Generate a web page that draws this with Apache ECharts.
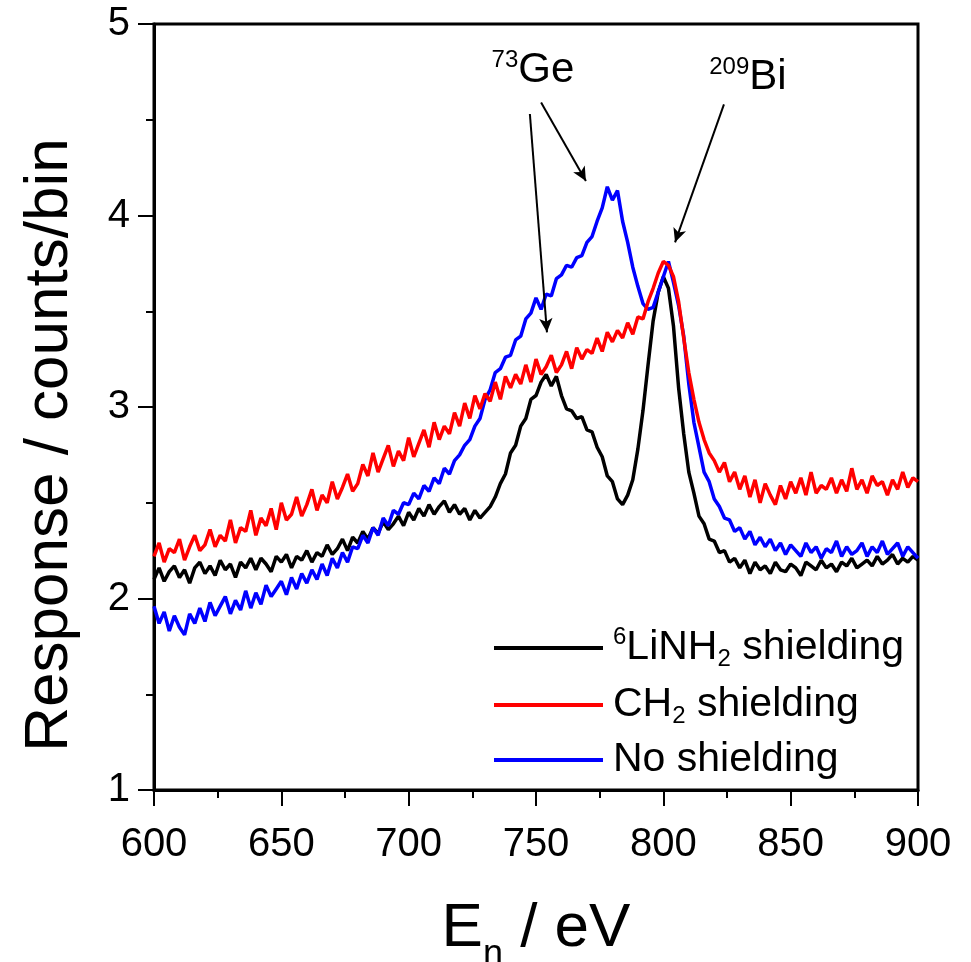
<!DOCTYPE html>
<html>
<head>
<meta charset="utf-8">
<script src="https://cdn.jsdelivr.net/npm/echarts@6/dist/echarts.min.js"></script>
<style>html,body{margin:0;padding:0;background:#fff}#c{width:971px;height:962px}</style>
</head>
<body>
<div id="c"></div>
<script>
// Energy grid (eV), 2 eV steps from 600 to 900
const energyStart = 600, energyStep = 2;
const xTicks = [600, 650, 700, 750, 800, 850, 900];
const yTicks = [1, 2, 3, 4, 5];

const liNH2 = [
2.10,2.16,2.09,2.14,2.17,2.11,2.15,2.08,2.16,2.19,2.13,2.17,2.12,2.20,2.15,2.18,2.11,2.19,2.16,2.21,
2.15,2.21,2.18,2.14,2.22,2.19,2.23,2.16,2.22,2.20,2.25,2.19,2.24,2.22,2.28,2.23,2.26,2.31,2.25,2.32,
2.29,2.35,2.31,2.37,2.34,2.40,2.36,2.39,2.43,2.38,2.45,2.41,2.47,2.43,2.49,2.44,2.48,2.51,2.45,2.49,
2.44,2.47,2.41,2.46,2.42,2.45,2.48,2.53,2.60,2.65,2.76,2.80,2.90,2.94,3.04,3.06,3.13,3.17,3.11,3.16,
3.06,2.99,2.98,2.94,2.95,2.88,2.87,2.79,2.74,2.64,2.61,2.52,2.49,2.54,2.62,2.78,2.98,3.22,3.45,3.60,
3.68,3.62,3.42,3.10,2.86,2.66,2.55,2.43,2.39,2.31,2.30,2.24,2.25,2.19,2.21,2.16,2.20,2.13,2.19,2.15,
2.17,2.13,2.19,2.15,2.14,2.18,2.16,2.12,2.19,2.17,2.15,2.20,2.16,2.18,2.14,2.19,2.17,2.21,2.16,2.18,
2.20,2.17,2.22,2.18,2.20,2.23,2.18,2.21,2.19,2.22,2.20
];
const ch2 = [
2.22,2.29,2.19,2.26,2.24,2.31,2.20,2.27,2.33,2.25,2.28,2.36,2.27,2.33,2.30,2.41,2.29,2.37,2.35,2.46,
2.33,2.42,2.38,2.47,2.36,2.50,2.41,2.44,2.53,2.43,2.49,2.57,2.46,2.54,2.50,2.61,2.52,2.58,2.65,2.56,
2.60,2.70,2.64,2.76,2.66,2.73,2.80,2.69,2.77,2.72,2.84,2.74,2.81,2.88,2.79,2.92,2.83,2.90,2.86,2.97,
2.90,3.02,2.94,3.06,2.99,3.07,3.03,3.13,3.04,3.16,3.10,3.17,3.12,3.22,3.13,3.25,3.17,3.21,3.27,3.18,
3.22,3.29,3.20,3.31,3.25,3.30,3.28,3.36,3.29,3.39,3.34,3.40,3.36,3.44,3.38,3.47,3.46,3.55,3.62,3.70,
3.76,3.74,3.68,3.55,3.36,3.18,3.04,2.92,2.83,2.76,2.72,2.66,2.71,2.61,2.66,2.57,2.64,2.53,2.62,2.50,
2.60,2.54,2.49,2.59,2.52,2.61,2.55,2.63,2.54,2.66,2.55,2.59,2.57,2.63,2.55,2.62,2.56,2.68,2.57,2.62,
2.55,2.64,2.59,2.61,2.54,2.62,2.57,2.66,2.58,2.63,2.61
];
const noShield = [
1.96,1.87,1.93,1.83,1.91,1.85,1.81,1.92,1.87,1.95,1.88,1.98,1.91,1.96,2.01,1.92,1.99,1.94,2.04,1.95,
2.03,1.97,2.07,2.01,2.05,2.09,2.02,2.11,2.05,2.13,2.08,2.15,2.10,2.18,2.12,2.21,2.16,2.24,2.19,2.27,
2.26,2.33,2.29,2.37,2.33,2.42,2.38,2.46,2.44,2.50,2.49,2.55,2.52,2.59,2.56,2.63,2.60,2.68,2.65,2.72,
2.75,2.80,2.83,2.90,2.94,3.04,3.09,3.18,3.20,3.26,3.27,3.35,3.37,3.46,3.49,3.57,3.51,3.59,3.58,3.67,
3.69,3.74,3.73,3.78,3.79,3.86,3.89,3.97,4.04,4.15,4.08,4.13,3.97,3.86,3.73,3.63,3.54,3.51,3.52,3.60,
3.68,3.76,3.65,3.53,3.37,3.12,2.92,2.79,2.66,2.61,2.52,2.48,2.42,2.41,2.35,2.37,2.31,2.35,2.28,2.32,
2.27,2.31,2.25,2.29,2.23,2.28,2.25,2.22,2.29,2.24,2.27,2.21,2.26,2.24,2.30,2.22,2.27,2.23,2.25,2.29,
2.22,2.27,2.24,2.30,2.23,2.26,2.29,2.22,2.27,2.24,2.21
];

const seriesNames = ['6LiNH2 shielding', 'CH2 shielding', 'No shielding'];
const legendRich = {
  '6LiNH2 shielding': '{sup|6}LiNH{sub|2} shielding',
  'CH2 shielding': 'CH{sub|2} shielding',
  'No shielding': 'No shielding'
};
// annotation arrows: [from, to] in data coords
const arrows = [
  [[747.6, 4.53], [754.3, 3.39]],
  [[752.0, 4.59], [769.6, 4.18]],
  [[823.8, 4.58], [804.6, 3.86]]
];
const annotations = [
  {coord: [748.8, 4.76], text: '{sup|73}{base|Ge}'},
  {coord: [833.2, 4.72], text: '{sup|209}{base|Bi}'}
];

const pairs = arr => arr.map((v, i) => [energyStart + i * energyStep, v]);
const FONT = 'Liberation Sans';

const chart = echarts.init(document.getElementById('c'), null, {renderer: 'canvas'});
const option = {
  animation: false,
  backgroundColor: '#fff',
  textStyle: {fontFamily: FONT},
  grid: {left: 154, right: 53, top: 24, bottom: 172, show: true, borderColor: '#000', borderWidth: 3,
    backgroundColor: 'transparent', containLabel: false, outerBoundsMode: 'none'},
  legend: {
    data: seriesNames,
    orient: 'vertical',
    left: 494, top: 623, padding: 0,
    itemWidth: 109, itemHeight: 4, itemGap: 9,
    icon: 'rect',
    formatter: n => legendRich[n],
    textStyle: {
      fontFamily: FONT, fontSize: 41, color: '#000', lineHeight: 46, padding: [0, 0, 0, 5],
      rich: {
        sup: {fontFamily: FONT, fontSize: 24, verticalAlign: 'top', lineHeight: 46, padding: [0, 0, 18, 0]},
        sub: {fontFamily: FONT, fontSize: 24, verticalAlign: 'bottom', lineHeight: 24, padding: [24, 0, 0, 0]}
      }
    }
  },
  xAxis: {
    type: 'value', min: 600, max: 900, interval: 50,
    name: 'E{sub|n} / eV', nameLocation: 'middle', nameGap: 95,
    nameTextStyle: {fontFamily: FONT, fontSize: 62, color: '#000',
      rich: {sub: {fontFamily: FONT, fontSize: 36, padding: [52, 0, 0, 0]}}},
    axisLine: {lineStyle: {color: '#000', width: 3}},
    axisTick: {inside: false, length: 16, lineStyle: {width: 2, color: '#000'}},
    minorTick: {show: true, splitNumber: 2, length: 8, lineStyle: {width: 2, color: '#000'}},
    axisLabel: {fontFamily: FONT, fontSize: 40, color: '#000', margin: 35,
      customValues: xTicks},
    splitLine: {show: false}
  },
  yAxis: {
    type: 'value', min: 1, max: 5, interval: 1,
    name: 'Response / counts/bin', nameLocation: 'middle', nameGap: 73, nameRotate: 90,
    nameTextStyle: {fontFamily: FONT, fontSize: 62, color: '#000', padding: [0, 76, 0, 0]},
    axisLine: {lineStyle: {color: '#000', width: 3}},
    axisTick: {inside: false, length: 16, lineStyle: {width: 2, color: '#000'}},
    minorTick: {show: true, splitNumber: 2, length: 8, lineStyle: {width: 2, color: '#000'}},
    axisLabel: {fontFamily: FONT, fontSize: 40, color: '#000', margin: 24, customValues: yTicks},
    splitLine: {show: false}
  },
  series: [
    {name: seriesNames[0], type: 'line', data: pairs(liNH2), showSymbol: false, symbol: 'none',
     lineStyle: {color: '#000', width: 3.5}, itemStyle: {color: '#000'}, z: 2,
     markLine: {silent: true, symbol: ['none', 'arrow'], symbolSize: [10, 14],
       lineStyle: {color: '#000', width: 2, type: 'solid'}, label: {show: false},
       data: arrows.map(a => [{coord: a[0]}, {coord: a[1]}])},
     markPoint: {silent: true, symbol: 'circle', symbolSize: 1, itemStyle: {color: 'rgba(0,0,0,0)'},
       label: {show: true, position: 'inside', color: '#000', fontFamily: FONT,
         rich: {
           sup: {fontFamily: FONT, fontSize: 24, verticalAlign: 'top', lineHeight: 44, padding: [0,0,14,0], color: '#000'},
           base: {fontFamily: FONT, fontSize: 42, lineHeight: 44, color: '#000'}
         }},
       data: annotations.map(a => ({coord: a.coord, label: {formatter: a.text}}))}
    },
    {name: seriesNames[2], type: 'line', data: pairs(noShield), showSymbol: false, symbol: 'none',
     lineStyle: {color: '#0000ff', width: 3.5}, itemStyle: {color: '#0000ff'}, z: 3},
    {name: seriesNames[1], type: 'line', data: pairs(ch2), showSymbol: false, symbol: 'none',
     lineStyle: {color: '#ff0000', width: 3.5}, itemStyle: {color: '#ff0000'}, z: 4}
  ]
};
chart.setOption(option);
</script>
</body>
</html>
